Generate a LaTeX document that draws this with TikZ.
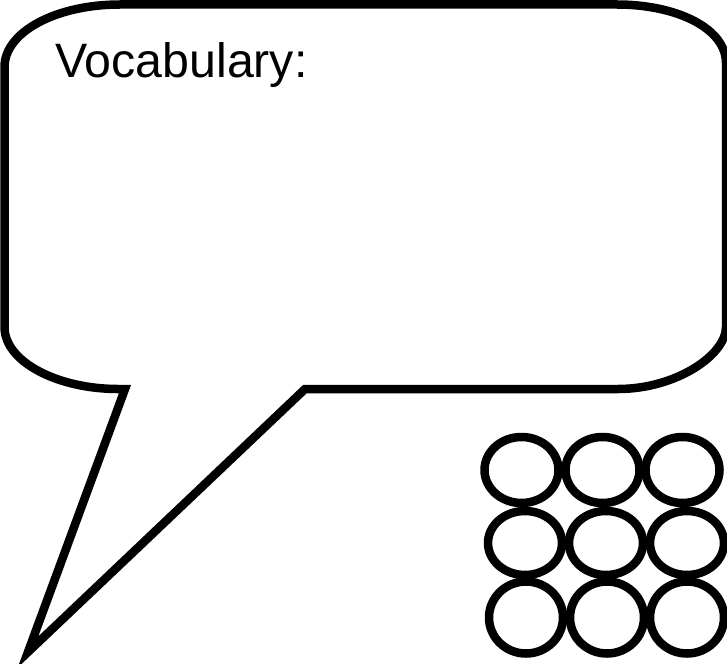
\documentclass[tikz,border=0pt]{standalone}
\usepackage{fontspec}
\setmainfont{Liberation Sans}
\begin{document}
\begin{tikzpicture}[x=1pt,y=-1pt,
  outline/.style={line width=8.5pt, line join=miter, miter limit=20},
  ring/.style={line width=8.5pt}]
\useasboundingbox (0,0) rectangle (727,663);
% speech bubble
\draw[outline] (125,389) -- (28,652) -- (305,389) -- (618,389)
  .. controls (676,389) and (726,355) .. (726,327)
  -- (726,63)
  .. controls (726,28) and (676,4.5) .. (617,4.5)
  -- (120,4.5)
  .. controls (56,4.5) and (4.5,32) .. (4.5,67)
  -- (4.5,327)
  .. controls (4.5,362) and (58,389) .. (118,389) -- cycle;
\node[anchor=base west, inner sep=0pt, font=\fontsize{48.3}{58}\selectfont] (vocab) at (55,78) {Vocabulary:};
% grid of circles
\foreach \cx/\cy/\ry [count=\i] in {521.5/470/33, 602.5/470/33, 682.5/470/33,
                                   525/543/32, 606/543/32, 687/543/32,
                                   526/617.5/36, 607/617.5/36, 687/617.5/36}
  \draw[ring] (\cx,\cy) ellipse [x radius=37, y radius=\ry];
\end{tikzpicture}
\end{document}
